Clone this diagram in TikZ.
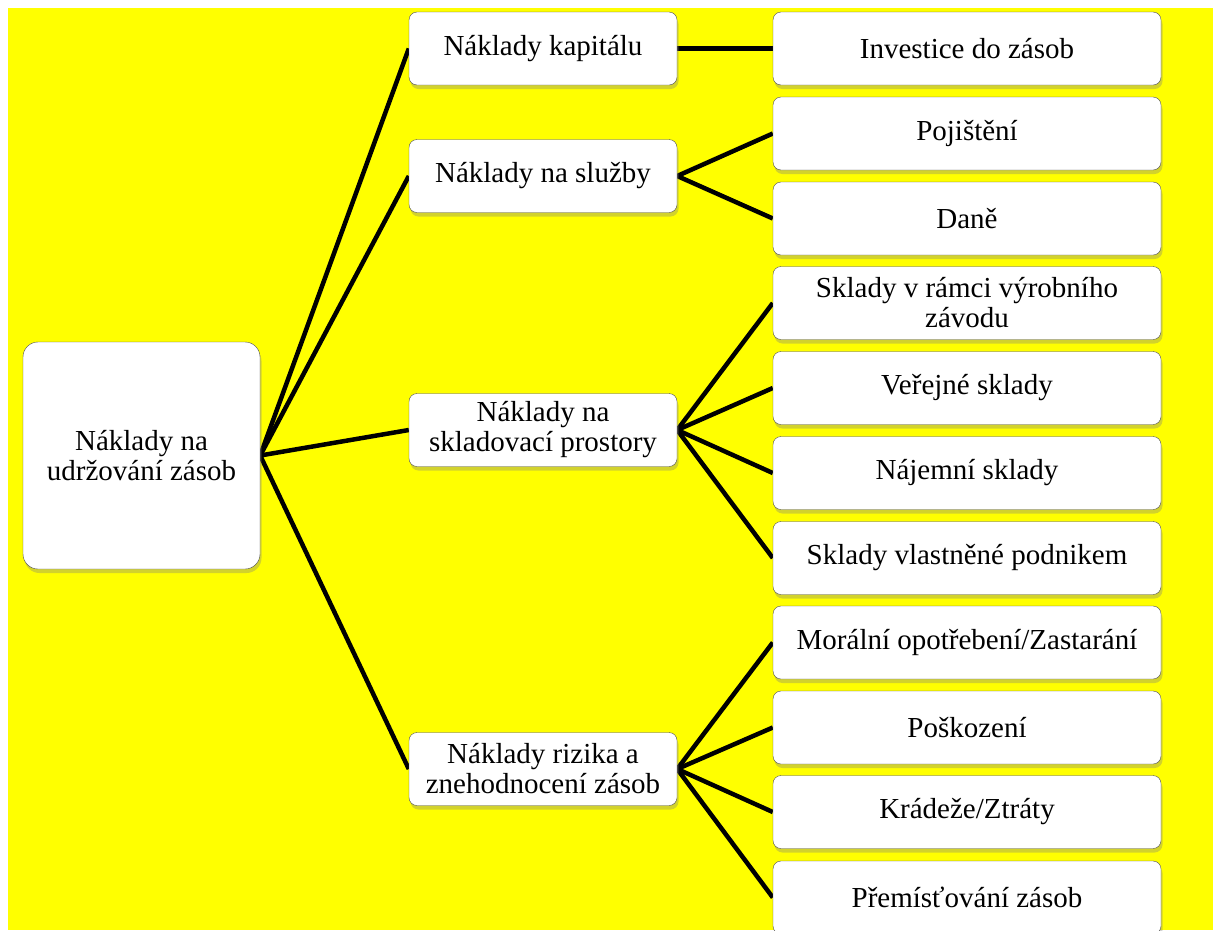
\documentclass[tikz,border=0pt]{standalone}
\usepackage{fontspec}
\setmainfont{Liberation Serif}
\usetikzlibrary{positioning,shadows,backgrounds}
\definecolor{bgyellow}{RGB}{255,255,0}

\begin{document}
\begin{tikzpicture}[x=1pt,y=-1pt,
    box/.style={draw=black!70, fill=white, rounded corners=8pt, align=center, inner sep=2pt,
      font=\fontsize{29}{30}\selectfont,
      drop shadow={shadow xshift=1.5pt, shadow yshift=-4pt, opacity=0.35}},
    rootbox/.style={box, rounded corners=15pt, minimum width=237pt, minimum height=227pt},
    midbox/.style={box, minimum width=268pt, minimum height=73pt},
    leafbox/.style={box, minimum width=388pt, minimum height=73pt},
    link/.style={line width=4.5pt}]
    \useasboundingbox (0,0) rectangle (1213,930);

    % hlavni uzel
    \node[rootbox] (naklady) at (141.5,455.5) {Náklady na\\udržování zásob};

    % druha uroven
    \node[midbox] (kapital) at (543,48.5) {Náklady kapitálu};
    \node[midbox] (sluzby) at (543,176) {Náklady na služby};
    \node[midbox] (prostory) at (543,430) {Náklady na\\skladovací prostory};
    \node[midbox] (riziko) at (543,769) {Náklady rizika a\\znehodnocení zásob};

    % treti uroven
    \node[leafbox] (investice) at (967,48.5) {Investice do zásob};
    \node[leafbox] (pojisteni) at (967,133.5) {Pojištění};
    \node[leafbox] (dane) at (967,218.5) {Daně};
    \node[leafbox] (vyrobni) at (967,303) {Sklady v rámci výrobního\\závodu};
    \node[leafbox] (verejne) at (967,388) {Veřejné sklady};
    \node[leafbox] (najemni) at (967,473) {Nájemní sklady};
    \node[leafbox] (vlastni) at (967,558) {Sklady vlastněné podnikem};
    \node[leafbox] (moralni) at (967,642.5) {Morální opotřebení/Zastarání};
    \node[leafbox] (poskozeni) at (967,727.5) {Poškození};
    \node[leafbox] (kradeze) at (967,812) {Krádeže/Ztráty};
    \node[leafbox] (premistovani) at (967,897.5) {Přemísťování zásob};

    \begin{scope}[on background layer]
        \fill[bgyellow] (8,8) rectangle (1213,930);
        \foreach \a/\b in {naklady/kapital, naklady/sluzby, naklady/prostory, naklady/riziko,
            kapital/investice, sluzby/pojisteni, sluzby/dane,
            prostory/vyrobni, prostory/verejne, prostory/najemni, prostory/vlastni,
            riziko/moralni, riziko/poskozeni, riziko/kradeze, riziko/premistovani}
            \draw[link] (\a.east) -- (\b.west);
    \end{scope}
\end{tikzpicture}
\end{document}
